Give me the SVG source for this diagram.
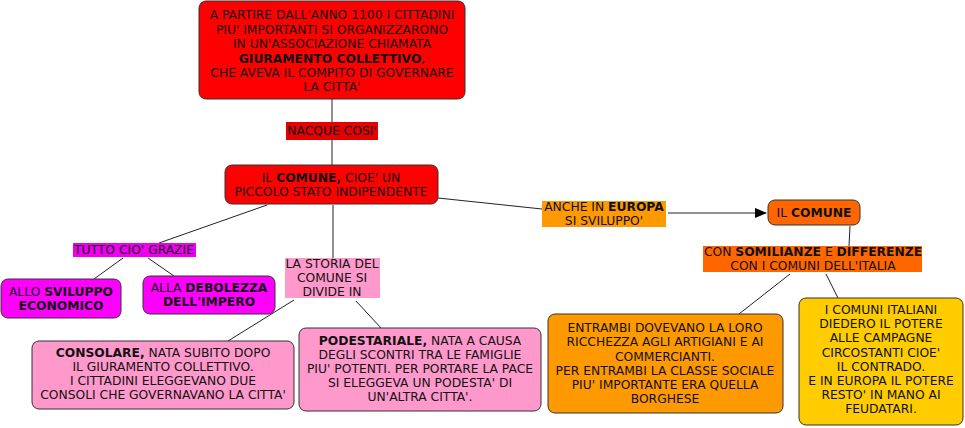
<svg xmlns="http://www.w3.org/2000/svg" width="965" height="428" viewBox="0 0 965 428">
<style>
text{font-family:"DejaVu Sans",Verdana,sans-serif;font-size:12.3px;fill:#111;text-anchor:middle;dominant-baseline:central}
.b{font-weight:bold}
.box{stroke:#333;stroke-width:1}
.red{fill:#FF0000}
.mag{fill:#FF00FF}
.pink{fill:#FF99CC}
.org{fill:#FF9900}
.dorg{fill:#FF6600}
.yel{fill:#FFCC00}
.ln{stroke:#222;stroke-width:1;fill:none}
</style>
<defs>
<marker id="arr" markerWidth="12" markerHeight="10" refX="11" refY="5" orient="auto" markerUnits="userSpaceOnUse">
<path d="M0,0 L12,5 L0,10 Z" fill="#000"/>
</marker>
</defs>
<rect width="965" height="428" fill="#fff"/>
<g id="connectors">
<line class="ln" x1="332" y1="99" x2="332" y2="122"/>
<line class="ln" x1="332" y1="140" x2="332" y2="165"/>
<line class="ln" x1="267" y1="205" x2="159" y2="243"/>
<line class="ln" x1="123" y1="258" x2="94" y2="279"/>
<line class="ln" x1="148" y1="258" x2="174" y2="276"/>
<line class="ln" x1="333" y1="205" x2="333" y2="258"/>
<line class="ln" x1="294" y1="300" x2="228" y2="341"/>
<line class="ln" x1="356" y1="301" x2="381" y2="328"/>
<line class="ln" x1="438" y1="198" x2="542" y2="209"/>
<line class="ln" x1="668" y1="213" x2="766" y2="213" marker-end="url(#arr)"/>
<line class="ln" x1="850" y1="226" x2="849" y2="246"/>
<line class="ln" x1="790" y1="274" x2="739" y2="314"/>
<line class="ln" x1="826" y1="274" x2="838" y2="298"/>
</g>
<g id="n-top">
<rect class="box red" x="199" y="1" width="266" height="98" rx="7"/>
<text x="332" y="15">A PARTIRE DALL'ANNO 1100 I CITTADINI</text>
<text x="332" y="29.5">PIU' IMPORTANTI SI ORGANIZZARONO</text>
<text x="332" y="44">IN UN'ASSOCIAZIONE CHIAMATA</text>
<text x="332" y="58.5"><tspan class="b">GIURAMENTO COLLETTIVO</tspan>,</text>
<text x="332" y="73">CHE AVEVA IL COMPITO DI GOVERNARE</text>
<text x="332" y="87">LA CITTA'</text>
</g>
<g id="l-nacque">
<rect x="286" y="122" width="92" height="18" fill="#E60000"/>
<text x="332" y="131">NACQUE COSI'</text>
</g>
<g id="n-comune">
<rect class="box red" x="225" y="165" width="213" height="39" rx="7"/>
<text x="331" y="178">IL <tspan class="b">COMUNE,</tspan> CIOE' UN</text>
<text x="331" y="192">PICCOLO STATO INDIPENDENTE</text>
</g>
<g id="l-tutto">
<rect x="73" y="243" width="123" height="14" fill="#EE00EE"/>
<text x="134" y="250">TUTTO CIO' GRAZIE</text>
</g>
<g id="n-sviluppo">
<rect class="box mag" x="1" y="279" width="120" height="39" rx="7"/>
<text x="61" y="292">ALLO <tspan class="b">SVILUPPO</tspan></text>
<text x="61" y="306" class="b">ECONOMICO</text>
</g>
<g id="n-debolezza">
<rect class="box mag" x="143" y="276" width="132" height="38" rx="7"/>
<text x="209" y="288">ALLA <tspan class="b">DEBOLEZZA</tspan></text>
<text x="209" y="302" class="b">DELL'IMPERO</text>
</g>
<g id="l-storia">
<rect x="285" y="258" width="95" height="40" fill="#FF99CC"/>
<text x="332" y="264">LA STORIA DEL</text>
<text x="332" y="278">COMUNE SI</text>
<text x="332" y="292">DIVIDE IN</text>
</g>
<g id="n-consolare">
<rect class="box pink" x="32" y="341" width="262" height="68" rx="7"/>
<text x="163" y="353">
<tspan class="b">CONSOLARE,</tspan> NATA SUBITO DOPO</text>
<text x="163" y="367">IL GIURAMENTO COLLETTIVO.</text>
<text x="163" y="381">I CITTADINI ELEGGEVANO DUE</text>
<text x="163" y="395">CONSOLI CHE GOVERNAVANO LA CITTA'</text>
</g>
<g id="n-podestariale">
<rect class="box pink" x="299" y="328" width="242" height="83" rx="7"/>
<text x="420" y="341"><tspan class="b">PODESTARIALE,</tspan> NATA A CAUSA</text>
<text x="420" y="355">DEGLI SCONTRI TRA LE FAMIGLIE</text>
<text x="420" y="369">PIU' POTENTI. PER PORTARE LA PACE</text>
<text x="420" y="383">SI ELEGGEVA UN PODESTA' DI</text>
<text x="420" y="397">UN'ALTRA CITTA'.</text>
</g>
<g id="l-europa">
<rect x="542" y="201" width="124" height="26" fill="#FF9900"/>
<text x="604" y="207">ANCHE IN <tspan class="b">EUROPA</tspan></text>
<text x="604" y="221">SI SVILUPPO'</text>
</g>
<g id="n-ilcomune">
<rect class="box dorg" x="768" y="200" width="92" height="25" rx="7"/>
<text x="814" y="213">IL <tspan class="b">COMUNE</tspan></text>
</g>
<g id="l-somilianze">
<rect x="703" y="246" width="219" height="26" fill="#FF6600"/>
<text x="813" y="252">CON <tspan class="b">SOMILIANZE</tspan> E <tspan class="b">DIFFERENZE</tspan></text>
<text x="813" y="266">CON I COMUNI DELL'ITALIA</text>
</g>
<g id="n-entrambi">
<rect class="box org" x="548" y="314" width="235" height="99" rx="7"/>
<text x="665" y="328">ENTRAMBI DOVEVANO LA LORO</text>
<text x="665" y="342">RICCHEZZA AGLI ARTIGIANI E AI</text>
<text x="665" y="356.5">COMMERCIANTI.</text>
<text x="665" y="371">PER ENTRAMBI LA CLASSE SOCIALE</text>
<text x="665" y="385">PIU' IMPORTANTE ERA QUELLA</text>
<text x="665" y="399">BORGHESE</text>
</g>
<g id="n-italiani">
<rect class="box yel" x="799" y="298" width="164" height="127" rx="7"/>
<text x="881" y="310">I COMUNI ITALIANI</text>
<text x="881" y="324">DIEDERO IL POTERE</text>
<text x="881" y="338">ALLE CAMPAGNE</text>
<text x="881" y="352.5">CIRCOSTANTI CIOE'</text>
<text x="881" y="367">IL CONTRADO.</text>
<text x="881" y="381">E IN EUROPA IL POTERE</text>
<text x="881" y="395">RESTO' IN MANO AI</text>
<text x="881" y="409">FEUDATARI.</text>
</g>
</svg>
